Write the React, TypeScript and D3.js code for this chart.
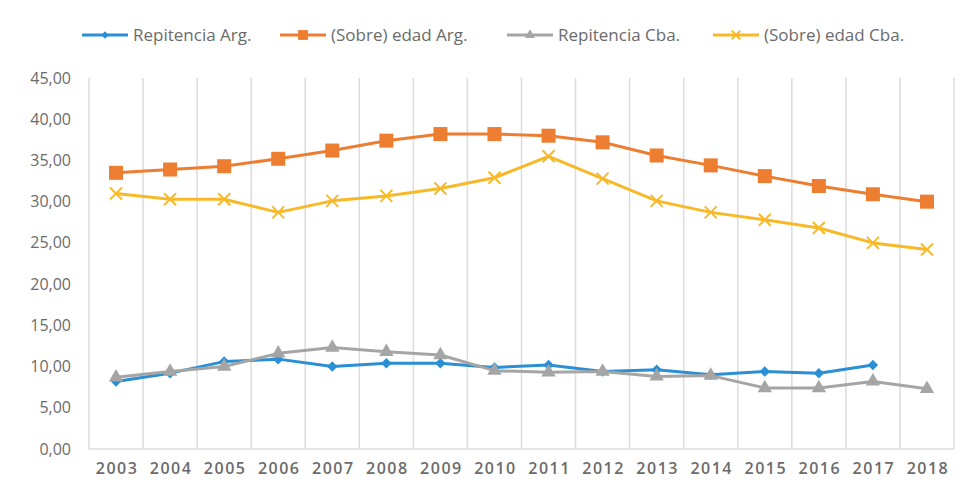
import React, { useRef, useEffect } from "react";
import * as d3 from "d3";

// data
const years = ["2003", "2004", "2005", "2006", "2007", "2008", "2009", "2010", "2011", "2012", "2013", "2014", "2015", "2016", "2017", "2018"];
const repitenciaArg = [8.2, 9.2, 10.6, 10.9, 10.0, 10.4, 10.4, 9.9, 10.2, 9.4, 9.6, 9.0, 9.4, 9.2, 10.2, null];
const sobreEdadArg = [33.5, 33.9, 34.3, 35.2, 36.2, 37.4, 38.2, 38.2, 38.0, 37.2, 35.6, 34.4, 33.1, 31.9, 30.9, 30.0];
const repitenciaCba = [8.7, 9.4, 10.0, 11.6, 12.3, 11.8, 11.4, 9.5, 9.3, 9.4, 8.8, 8.9, 7.4, 7.4, 8.2, 7.3];
const sobreEdadCba = [31.0, 30.3, 30.3, 28.7, 30.1, 30.7, 31.6, 32.9, 35.5, 32.8, 30.1, 28.7, 27.8, 26.8, 25.0, 24.2];
const yTicks = [0, 5, 10, 15, 20, 25, 30, 35, 40, 45];

const series = [
  { name: "Repitencia Arg.", values: repitenciaArg, color: "#2a8fd4", marker: "diamond" },
  { name: "(Sobre) edad Arg.", values: sobreEdadArg, color: "#ed7d31", marker: "square" },
  { name: "Repitencia Cba.", values: repitenciaCba, color: "#a5a5a5", marker: "triangle" },
  { name: "(Sobre) edad Cba.", values: sobreEdadCba, color: "#f7b928", marker: "cross" },
];
const legendX = [82, 280, 507, 713];

const W = 965;
const H = 491;
const margin = { top: 80, right: 10, bottom: 42, left: 89 };

const drawMarker = (g, kind, color, x, y, k = 1) => {
  if (kind === "diamond") {
    g.append("path").attr("d", d3.symbol(d3.symbolDiamond2, 70 * k * k)()).attr("transform", `translate(${x},${y})`).attr("fill", color);
  } else if (kind === "square") {
    const s = 7 * k;
    g.append("rect").attr("x", x - s).attr("y", y - s).attr("width", 2 * s).attr("height", 2 * s).attr("fill", color);
  } else if (kind === "triangle") {
    g.append("path").attr("d", d3.symbol(d3.symbolTriangle, 90 * k * k)()).attr("transform", `translate(${x},${y})`).attr("fill", color);
  } else {
    const s = 6 * k;
    g.append("path").attr("d", `M${x - s},${y - s}L${x + s},${y + s}M${x - s},${y + s}L${x + s},${y - s}`)
      .attr("stroke", color).attr("stroke-width", 2);
  }
};

const App = () => {
  const svgRef = useRef(null);

  useEffect(() => {
    const svg = d3.select(svgRef.current);
    svg.selectAll("*").remove();

    const x = d3.scaleBand().domain(years).range([margin.left, W - margin.right - 1]);
    const y = d3.scaleLinear().domain([0, 45]).range([H - margin.bottom, margin.top - 2]);
    const font = "'Open Sans', 'Liberation Sans', sans-serif";

    // vertical grid lines at category edges
    const edges = years.map(d => x(d)).concat([x.range()[1]]);
    svg.append("g").selectAll("line").data(edges).join("line")
      .attr("x1", d => d).attr("x2", d => d)
      .attr("y1", y(45)).attr("y2", y(0))
      .attr("stroke", "#dcdcdc").attr("stroke-width", 1.5);
    svg.append("line").attr("x1", x.range()[0]).attr("x2", x.range()[1])
      .attr("y1", y(0)).attr("y2", y(0)).attr("stroke", "#dcdcdc").attr("stroke-width", 1.5);

    // y labels
    svg.append("g").selectAll("text").data(yTicks).join("text")
      .attr("x", 71).attr("y", d => y(d)).attr("dy", "0.35em")
      .attr("text-anchor", "end").attr("font-family", font).attr("font-size", 16)
      .attr("fill", "#6b6b6b").text(d => d3.format(".2f")(d).replace(".", ","));

    // x labels
    svg.append("g").selectAll("text").data(years).join("text")
      .attr("x", d => x(d) + x.bandwidth() / 2 + 1).attr("y", 474)
      .attr("text-anchor", "middle").attr("font-family", font).attr("font-size", 16)
      .attr("font-weight", 600).attr("letter-spacing", 1.5)
      .attr("fill", "#6b6b6b").text(d => d);

    const cx = d => x(d) + x.bandwidth() / 2;

    series.forEach(s => {
      const pts = years.map((yr, i) => ({ yr, v: s.values[i] })).filter(p => p.v != null);
      const myLine = d3.line().x(p => cx(p.yr)).y(p => y(p.v));
      const g = svg.append("g");
      g.append("path").datum(pts).attr("d", myLine)
        .attr("fill", "none").attr("stroke", s.color).attr("stroke-width", 3)
        .attr("stroke-linejoin", "round").attr("stroke-linecap", "round");
      pts.forEach(p => drawMarker(g, s.marker, s.color, cx(p.yr), y(p.v)));
    });

    // legend
    series.forEach((s, i) => {
      const g = svg.append("g");
      const lx = legendX[i];
      g.append("line").attr("x1", lx).attr("x2", lx + 46).attr("y1", 35).attr("y2", 35)
        .attr("stroke", s.color).attr("stroke-width", 3);
      drawMarker(g, s.marker, s.color, lx + 23, 35, 0.7);
      g.append("text").attr("x", lx + 51).attr("y", 35).attr("dy", "0.35em")
        .attr("font-family", font).attr("font-size", 17).attr("fill", "#6b6b6b").text(s.name);
    });
  }, []);

  return (
    <svg ref={svgRef} width={W} height={H}
      style={{ position: "absolute", left: 0, top: 0, background: "#fff" }} />
  );
};

export default App;
